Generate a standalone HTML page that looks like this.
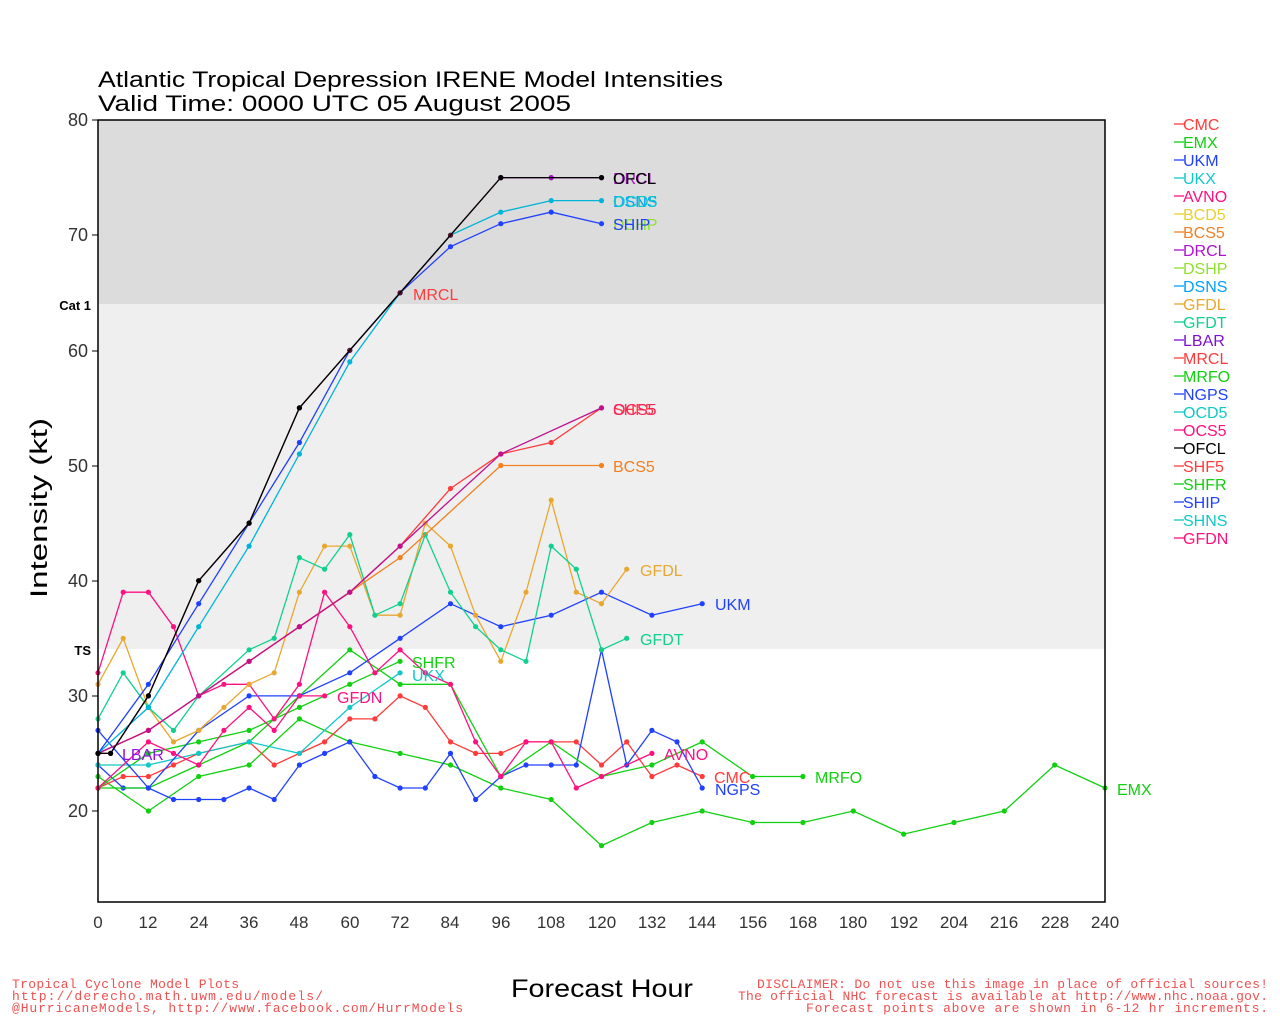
<!DOCTYPE html>
<html><head><meta charset="utf-8"><style>
body{margin:0;background:#fff;width:1280px;height:1024px;overflow:hidden}
svg{font-family:"Liberation Sans",sans-serif}
</style></head><body>
<svg id="s" width="1280" height="1024" xmlns="http://www.w3.org/2000/svg">
<rect x="98" y="120" width="1007" height="184" fill="#dcdcdc"/>
<rect x="98" y="304" width="1007" height="345" fill="#efefef"/>
<g id="lines"></g>
<rect x="98" y="120" width="1007" height="782" fill="none" stroke="#000" stroke-width="1.5"/>
<g font-size="18" text-anchor="end" fill="#333">
<text x="88" y="126">80</text><text x="88" y="241">70</text><text x="88" y="357">60</text><text x="88" y="472">50</text><text x="88" y="587">40</text><text x="88" y="702">30</text><text x="88" y="817">20</text>
</g>
<g font-size="13" font-weight="bold" text-anchor="end"><text x="91" y="310">Cat 1</text><text x="91" y="655">TS</text></g>
<g stroke="#000"><line x1="92" x2="98" y1="120" y2="120"/><line x1="92" x2="98" y1="235" y2="235"/><line x1="92" x2="98" y1="351" y2="351"/><line x1="92" x2="98" y1="466" y2="466"/><line x1="92" x2="98" y1="581" y2="581"/><line x1="92" x2="98" y1="696" y2="696"/><line x1="92" x2="98" y1="811" y2="811"/></g>
<g font-size="17" text-anchor="middle" fill="#333">
<text x="98" y="928">0</text><text x="148" y="928">12</text><text x="199" y="928">24</text><text x="249" y="928">36</text><text x="299" y="928">48</text><text x="350" y="928">60</text><text x="400" y="928">72</text><text x="450" y="928">84</text><text x="501" y="928">96</text><text x="551" y="928">108</text><text x="602" y="928">120</text><text x="652" y="928">132</text><text x="702" y="928">144</text><text x="753" y="928">156</text><text x="803" y="928">168</text><text x="853" y="928">180</text><text x="904" y="928">192</text><text x="954" y="928">204</text><text x="1004" y="928">216</text><text x="1055" y="928">228</text><text x="1105" y="928">240</text>
</g>
<g font-size="22" fill="#000"><text x="98" y="87" textLength="625" lengthAdjust="spacingAndGlyphs">Atlantic Tropical Depression IRENE Model Intensities</text><text x="98" y="111" textLength="473" lengthAdjust="spacingAndGlyphs">Valid Time: 0000 UTC 05 August 2005</text></g>
<text x="47" y="508" font-size="24" text-anchor="middle" transform="rotate(-90 47 508)" textLength="180" lengthAdjust="spacingAndGlyphs">Intensity (kt)</text>
<text x="511" y="997" font-size="25" textLength="182" lengthAdjust="spacingAndGlyphs">Forecast Hour</text>
<g font-size="13" fill="#f05050" font-family="Liberation Mono,monospace" lengthAdjust="spacingAndGlyphs">
<text x="12" y="988" textLength="227">Tropical Cyclone Model Plots</text><text x="12" y="1000" textLength="311">http://derecho.math.uwm.edu/models/</text><text x="12" y="1012" textLength="451">@HurricaneModels, http://www.facebook.com/HurrModels</text>
<text x="757" y="988" textLength="511">DISCLAIMER: Do not use this image in place of official sources!</text><text x="738" y="1000" textLength="530">The official NHC forecast is available at http://www.nhc.noaa.gov.</text><text x="806" y="1012" textLength="462">Forecast points above are shown in 6-12 hr increments.</text>
</g>
<g font-size="16">
<text x="613" y="184" fill="#b010d0">DRCL</text><text x="613" y="184" fill="#000">OFCL</text><text x="613" y="207" fill="#00a0ff">DSNS</text><text x="613" y="207" fill="#10c8c8">OCD5</text><text x="613" y="230" fill="#90e030">DSHP</text><text x="613" y="230" fill="#2040ff">SHIP</text><text x="413" y="300" fill="#ff3b3b">MRCL</text>
<text x="613" y="415" fill="#ff3b3b">SHF5</text><text x="613" y="415" fill="#ff2060">OCS5</text><text x="613" y="472" fill="#f08020">BCS5</text><text x="640" y="576" fill="#e8a830">GFDL</text><text x="715" y="610" fill="#2040ff">UKM</text><text x="640" y="645" fill="#10d090">GFDT</text>
<text x="412" y="668" fill="#10d010">SHFR</text><text x="412" y="681" fill="#10c8c8">UKX</text><text x="337" y="703" fill="#ff1080">GFDN</text><text x="664" y="760" fill="#ff1080">AVNO</text><text x="714" y="783" fill="#ff3b3b">CMC</text><text x="715" y="795" fill="#2040ff">NGPS</text><text x="815" y="783" fill="#10d010">MRFO</text><text x="1117" y="795" fill="#10d010">EMX</text><text x="122" y="760" fill="#9010e0">LBAR</text>
</g>
<g font-size="16" id="leg">
<text x="1183" y="130" fill="#ff3b3b">CMC</text><text x="1183" y="148" fill="#10d010">EMX</text><text x="1183" y="166" fill="#2040ff">UKM</text><text x="1183" y="184" fill="#10c8c8">UKX</text><text x="1183" y="202" fill="#ff1080">AVNO</text><text x="1183" y="220" fill="#e8d030">BCD5</text><text x="1183" y="238" fill="#f08020">BCS5</text><text x="1183" y="256" fill="#b010d0">DRCL</text><text x="1183" y="274" fill="#90e030">DSHP</text><text x="1183" y="292" fill="#00a0ff">DSNS</text><text x="1183" y="310" fill="#e8a830">GFDL</text><text x="1183" y="328" fill="#10d090">GFDT</text><text x="1183" y="346" fill="#8010d0">LBAR</text><text x="1183" y="364" fill="#ff3b3b">MRCL</text><text x="1183" y="382" fill="#10d010">MRFO</text><text x="1183" y="400" fill="#2040ff">NGPS</text><text x="1183" y="418" fill="#10c8c8">OCD5</text><text x="1183" y="436" fill="#ff1080">OCS5</text><text x="1183" y="454" fill="#000">OFCL</text><text x="1183" y="472" fill="#ff3b3b">SHF5</text><text x="1183" y="490" fill="#10d010">SHFR</text><text x="1183" y="508" fill="#2040ff">SHIP</text><text x="1183" y="526" fill="#10c8c8">SHNS</text><text x="1183" y="544" fill="#ff1080">GFDN</text>
</g>
</svg>
<script>
var L=document.getElementById('lines'),ns="http://www.w3.org/2000/svg";
function X(h){return 98+h*4.196}function Y(v){return 120+(80-v)*11.517}
var cols=["#ff3b3b","#10d010","#2040ff","#10c8c8","#ff1080","#e8d030","#f08020","#b010d0","#90e030","#00a0ff","#e8a830","#10d090","#8010d0","#ff3b3b","#10d010","#2040ff","#10c8c8","#ff1080","#000","#ff3b3b","#10d010","#2040ff","#10c8c8","#ff1080"];
var lg=document.getElementById('leg');
cols.forEach(function(c,i){var l=document.createElementNS(ns,'line');var y=124+i*18;l.setAttribute('x1',1174);l.setAttribute('x2',1184);l.setAttribute('y1',y);l.setAttribute('y2',y);l.setAttribute('stroke',c);l.setAttribute('stroke-width','1.3');lg.appendChild(l);});
var S=[
["#10d010",[0,23,12,20,24,23,36,24,48,28,60,26,72,25,84,24,96,22,108,21,120,17,132,19,144,20,156,19,168,19,180,20,192,18,204,19,216,20,228,24,240,22]],
["#ff3b3b",[0,22,6,23,12,23,18,24,24,25,36,26,42,24,48,25,54,26,60,28,66,28,72,30,78,29,84,26,90,25,96,25,102,26,108,26,114,26,120,24,126,26,132,23,138,24,144,23]],
["#2040ff",[0,24,6,22,12,22,18,21,24,21,30,21,36,22,42,21,48,24,54,25,60,26,66,23,72,22,78,22,84,25,90,21,96,23,102,24,108,24,114,24,120,34,126,24,132,27,138,26,144,22]],
["#10d010",[0,22,12,22,24,24,36,26,48,30,60,34,72,31,84,31,96,23,108,26,120,23,132,24,144,26,156,23,168,23]],
["#10d010",[0,22,12,25,24,26,36,27,48,29,60,31,72,33]],
["#10c8c8",[0,24,12,24,24,25,36,26,48,25,60,29,72,32]],
["#2040ff",[0,27,12,22,24,27,36,30,48,30,60,32,72,35,84,38,96,36,108,37,120,39,132,37,144,38]],
["#ff1080",[0,32,6,39,12,39,18,36,24,30,30,31,36,31,42,28,48,31,54,39,60,36,66,32,72,34,78,32,84,31,90,26,96,23]],
["#ff1080",[0,22,12,26,18,25,24,24,30,27,36,29,42,27,48,30,54,30]],
["#ff1080",[96,23,102,26,108,26,114,22,120,23,132,25]],
["#e8a830",[0,31,6,35,12,29,18,26,24,27,30,29,36,31,42,32,48,39,54,43,60,43,66,37,72,37,78,45,84,43,90,37,96,33,102,39,108,47,114,39,120,38,126,41]],
["#10d090",[0,28,6,32,12,29,18,27,24,30,36,34,42,35,48,42,54,41,60,44,66,37,72,38,78,44,84,39,90,36,96,34,102,33,108,43,114,41,120,34,126,35]],
["#f08020",[0,25,12,27,24,30,36,33,48,36,60,39,72,42,96,50,120,50]],
["#ff3b3b",[0,25,12,27,24,30,36,33,48,36,60,39,72,43,84,48,96,51,108,52,120,55]],
["#c01090",[0,25,12,27,24,30,36,33,48,36,60,39,72,43,96,51,120,55]],
["#00b4d8",[0,25,12,29,24,36,36,43,48,51,60,59,72,65,84,70,96,72,108,73,120,73]],
["#2040ff",[0,25,12,31,24,38,36,45,48,52,60,60,72,65,84,69,96,71,108,72,120,71]],
["#601030",[0,25,3,25,12,30,24,40,36,45,48,55,60,60,72,65,84,70,96,75,108,75,120,75]],
["#b010d0",[96,75,108,75,120,75]],
["#000",[0,25,3,25,12,30,24,40,36,45,48,55,96,75,120,75]]
];
S.forEach(function(s){var d=s[1],p=[];for(var i=0;i<d.length;i+=2)p.push(X(d[i]).toFixed(1)+","+Y(d[i+1]).toFixed(1));
var pl=document.createElementNS(ns,'polyline');pl.setAttribute('points',p.join(' '));pl.setAttribute('fill','none');pl.setAttribute('stroke',s[0]);pl.setAttribute('stroke-width','1.3');L.appendChild(pl);
p.forEach(function(q){var c=document.createElementNS(ns,'circle');var a=q.split(',');c.setAttribute('cx',a[0]);c.setAttribute('cy',a[1]);c.setAttribute('r','2.6');c.setAttribute('fill',s[0]);L.appendChild(c);});});
</script>
</body></html>
